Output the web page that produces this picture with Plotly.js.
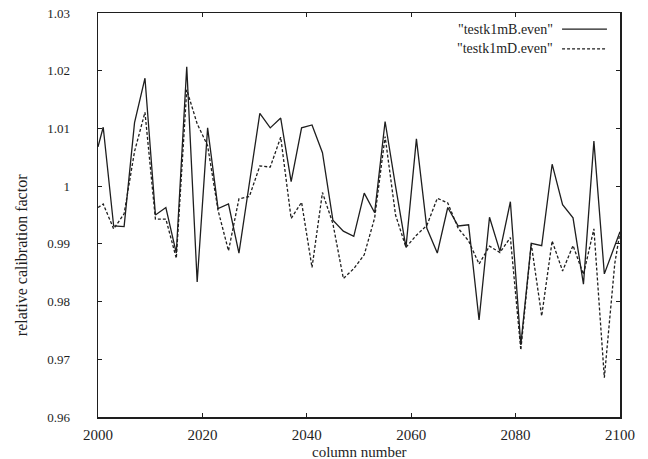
<!DOCTYPE html>
<html>
<head>
<meta charset="utf-8">
<script src="https://cdn.plot.ly/plotly-3.0.1.min.js"></script>
<style>html,body{margin:0;padding:0;background:#fff;}#chart{width:648px;height:459px;}</style>
</head>
<body>
<div id="chart"></div>
<script>
var columns = [2000, 2001, 2003, 2005, 2007, 2009, 2011, 2013, 2015, 2017, 2019,
  2021, 2023, 2025, 2027, 2029, 2031, 2033, 2035, 2037, 2039,
  2041, 2043, 2045, 2047, 2049, 2051, 2053, 2055, 2057, 2059,
  2061, 2063, 2065, 2067, 2069, 2071, 2073, 2075, 2077, 2079,
  2081, 2083, 2085, 2087, 2089, 2091, 2093, 2095, 2097, 2099, 2100];

var testk1mB = [1.0068, 1.0102, 0.9931, 0.9930, 1.0110, 1.0187, 0.9950, 0.9963, 0.9884, 1.0207, 0.9834,
  1.0101, 0.9961, 0.9969, 0.9884, 1.0005, 1.0126, 1.0101, 1.0118, 1.0008, 1.0101,
  1.0106, 1.0058, 0.9941, 0.9922, 0.9913, 0.9988, 0.9954, 1.0112, 1.0000, 0.9894,
  1.0082, 0.9927, 0.9884, 0.9963, 0.9931, 0.9933, 0.9768, 0.9946, 0.9887, 0.9973,
  0.9725, 0.9901, 0.9897, 1.0038, 0.9968, 0.9945, 0.9830, 1.0078, 0.9848, 0.9898, 0.9921];

var testk1mD = [0.9963, 0.9969, 0.9926, 0.9952, 1.0060, 1.0128, 0.9943, 0.9943, 0.9875, 1.0167, 1.0108,
  1.0070, 0.9958, 0.9888, 0.9978, 0.9982, 1.0035, 1.0033, 1.0085, 0.9944, 0.9972,
  0.9859, 0.9989, 0.9935, 0.9840, 0.9857, 0.9881, 0.9945, 1.0086, 0.9950, 0.9894,
  0.9915, 0.9932, 0.9979, 0.9971, 0.9927, 0.9905, 0.9865, 0.9896, 0.9885, 0.9911,
  0.9716, 0.9900, 0.9775, 0.9905, 0.9853, 0.9897, 0.9847, 0.9926, 0.9668, 0.9866, 0.9920];

var seriesNames = ['"testk1mB.even"', '"testk1mD.even"'];

var xTickVals = [2000, 2020, 2040, 2060, 2080, 2100];
var xTickText = ['2000', '2020', '2040', '2060', '2080', '2100'];
var yTickVals = [0.96, 0.97, 0.98, 0.99, 1.00, 1.01, 1.02, 1.03];
var yTickText = ['0.96', '0.97', '0.98', '0.99', '1', '1.01', '1.02', '1.03'];

var serif = '"Liberation Serif", "DejaVu Serif", serif';
var ink = '#1e1e1e';

var traces = [
  {x: columns, y: testk1mB, type: 'scatter', mode: 'lines', name: seriesNames[0],
   line: {color: ink, width: 1.3}, showlegend: false},
  {x: columns, y: testk1mD, type: 'scatter', mode: 'lines', name: seriesNames[1],
   line: {color: ink, width: 1.3, dash: '3px,2px'}, showlegend: false}
];

var axisCommon = {
  showline: true, linecolor: ink, linewidth: 1.5, mirror: 'ticks',
  ticks: 'inside', ticklen: 4, tickwidth: 1, tickcolor: ink,
  showgrid: false, zeroline: false, fixedrange: true
};

var layout = {
  width: 648, height: 459,
  margin: {l: 98, r: 28, t: 13, b: 42, pad: 0},
  paper_bgcolor: '#fff', plot_bgcolor: '#fff',
  font: {family: serif, color: ink},
  xaxis: Object.assign({}, axisCommon, {
    range: [2000, 2100], tickmode: 'array', tickvals: xTickVals, ticktext: xTickText,
    tickfont: {family: serif, size: 15, color: ink}, ticklabelstandoff: 3
  }),
  yaxis: Object.assign({}, axisCommon, {
    range: [0.96, 1.03], tickmode: 'array', tickvals: yTickVals, ticktext: yTickText,
    tickfont: {family: serif, size: 13, color: ink}, ticklabelstandoff: 24
  }),
  annotations: [
    {text: 'column number', xref: 'paper', yref: 'paper', x: 0.5, y: -0.087,
     xanchor: 'center', yanchor: 'middle', showarrow: false,
     font: {family: serif, size: 15, color: ink}},
    {text: 'relative calibration factor', xref: 'paper', yref: 'paper', x: -0.146, y: 0.40,
     xanchor: 'center', yanchor: 'middle', textangle: -90, showarrow: false,
     font: {family: serif, size: 16, color: ink}},
    {text: seriesNames[0], xref: 'paper', yref: 'paper', x: 0.876, y: 0.960,
     xanchor: 'right', yanchor: 'middle', showarrow: false,
     font: {family: serif, size: 14, color: ink}},
    {text: seriesNames[1], xref: 'paper', yref: 'paper', x: 0.876, y: 0.911,
     xanchor: 'right', yanchor: 'middle', showarrow: false,
     font: {family: serif, size: 14, color: ink}}
  ],
  shapes: [
    {type: 'line', xref: 'paper', yref: 'paper', x0: 0.889, x1: 0.975, y0: 0.960, y1: 0.960,
     line: {color: ink, width: 1.3}},
    {type: 'line', xref: 'paper', yref: 'paper', x0: 0.889, x1: 0.975, y0: 0.911, y1: 0.911,
     line: {color: ink, width: 1.3, dash: '3px,2px'}}
  ]
};

Plotly.newPlot('chart', traces, layout, {displayModeBar: false, staticPlot: true});
</script>
</body>
</html>
